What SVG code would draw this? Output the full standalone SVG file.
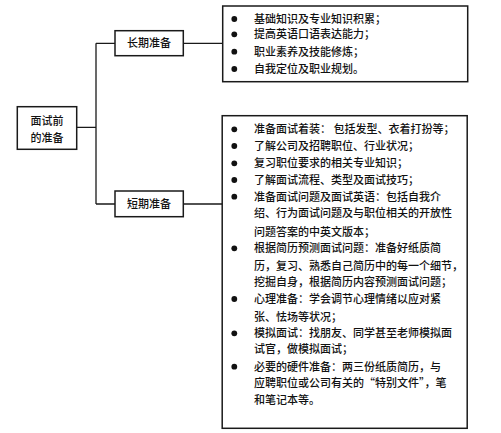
<svg xmlns="http://www.w3.org/2000/svg" width="501" height="433" viewBox="0 0 501 433">
<style>
.box{fill:#fff;stroke:#1a1a1a;stroke-width:1.5}
.con{fill:none;stroke:#1a1a1a;stroke-width:1.3}
text{font-family:"Noto Sans CJK SC","Noto Sans CJK JP",sans-serif;font-size:11px;fill:#111;font-weight:500}
.c{text-anchor:middle}
.dot{fill:#111}
</style>
<rect width="501" height="433" fill="#fff"/>
<g id="connectors">
<path class="con" d="M76.7,127.3H96M96,43.3V204M96,43.3H115M96,204H115M183.3,43.3H222.7M183.3,204H222.7"/>
</g>
<g id="root">
<rect class="box" x="17.3" y="106.7" width="59.4" height="42.6"/>
<text class="c" x="47" y="124.7">面试前</text>
<text class="c" x="47" y="141.7">的准备</text>
</g>
<g id="long">
<rect class="box" x="115" y="30.7" width="68.3" height="25"/>
<text class="c" x="149" y="47.3">长期准备</text>
</g>
<g id="short">
<rect class="box" x="115" y="191" width="68.3" height="25.7"/>
<text class="c" x="149" y="208">短期准备</text>
</g>
<g id="long-list">
<rect class="box" x="222.7" y="6" width="245" height="75.7"/>
<circle class="dot" cx="234.3" cy="19" r="2.9"/>
<circle class="dot" cx="234.3" cy="34.3" r="2.9"/>
<circle class="dot" cx="234.3" cy="51.7" r="2.9"/>
<circle class="dot" cx="234.3" cy="69" r="2.9"/>
<text x="254" y="23">基础知识及专业知识积累；</text>
<text x="254" y="38.3">提高英语口语表达能力；</text>
<text x="254" y="55.7">职业素养及技能修炼；</text>
<text x="254" y="73">自我定位及职业规划。</text>
</g>
<g id="short-list">
<rect class="box" x="222.2" y="115.7" width="245" height="312.6"/>
<circle class="dot" cx="234.3" cy="129.3" r="2.9"/>
<circle class="dot" cx="234.3" cy="146" r="2.9"/>
<circle class="dot" cx="234.3" cy="163.3" r="2.9"/>
<circle class="dot" cx="234.3" cy="180" r="2.9"/>
<circle class="dot" cx="234.3" cy="196.7" r="2.9"/>
<circle class="dot" cx="234.3" cy="248.3" r="2.9"/>
<circle class="dot" cx="234.3" cy="299" r="2.9"/>
<circle class="dot" cx="234.3" cy="333.3" r="2.9"/>
<circle class="dot" cx="234.3" cy="366.7" r="2.9"/>
<text x="254" y="133.3">准备面试着装： 包括发型、衣着打扮等；</text>
<text x="254" y="150">了解公司及招聘职位、行业状况；</text>
<text x="254" y="167.3">复习职位要求的相关专业知识；</text>
<text x="254" y="184">了解面试流程、类型及面试技巧；</text>
<text x="254" y="200.7">准备面试问题及面试英语：包括自我介</text>
<text x="254" y="217.3">绍、行为面试问题及与职位相关的开放性</text>
<text x="254" y="236.3">问题答案的中英文版本；</text>
<text x="254" y="252.3">根据简历预测面试问题：准备好纸质简</text>
<text x="254" y="269.7">历，复习、熟悉自己简历中的每一个细节，</text>
<text x="254" y="286.3">挖掘自身，根据简历内容预测面试问题；</text>
<text x="254" y="303">心理准备：学会调节心理情绪以应对紧</text>
<text x="254" y="320.7">张、怯场等状况；</text>
<text x="254" y="337.3">模拟面试：找朋友、同学甚至老师模拟面</text>
<text x="254" y="353.3">试官，做模拟面试；</text>
<text x="254" y="370.7">必要的硬件准备：两三份纸质简历，与</text>
<text x="254" y="387.3">应聘职位或公司有关的“特别文件”，笔</text>
<text x="254" y="404">和笔记本等。</text>
</g>
</svg>
